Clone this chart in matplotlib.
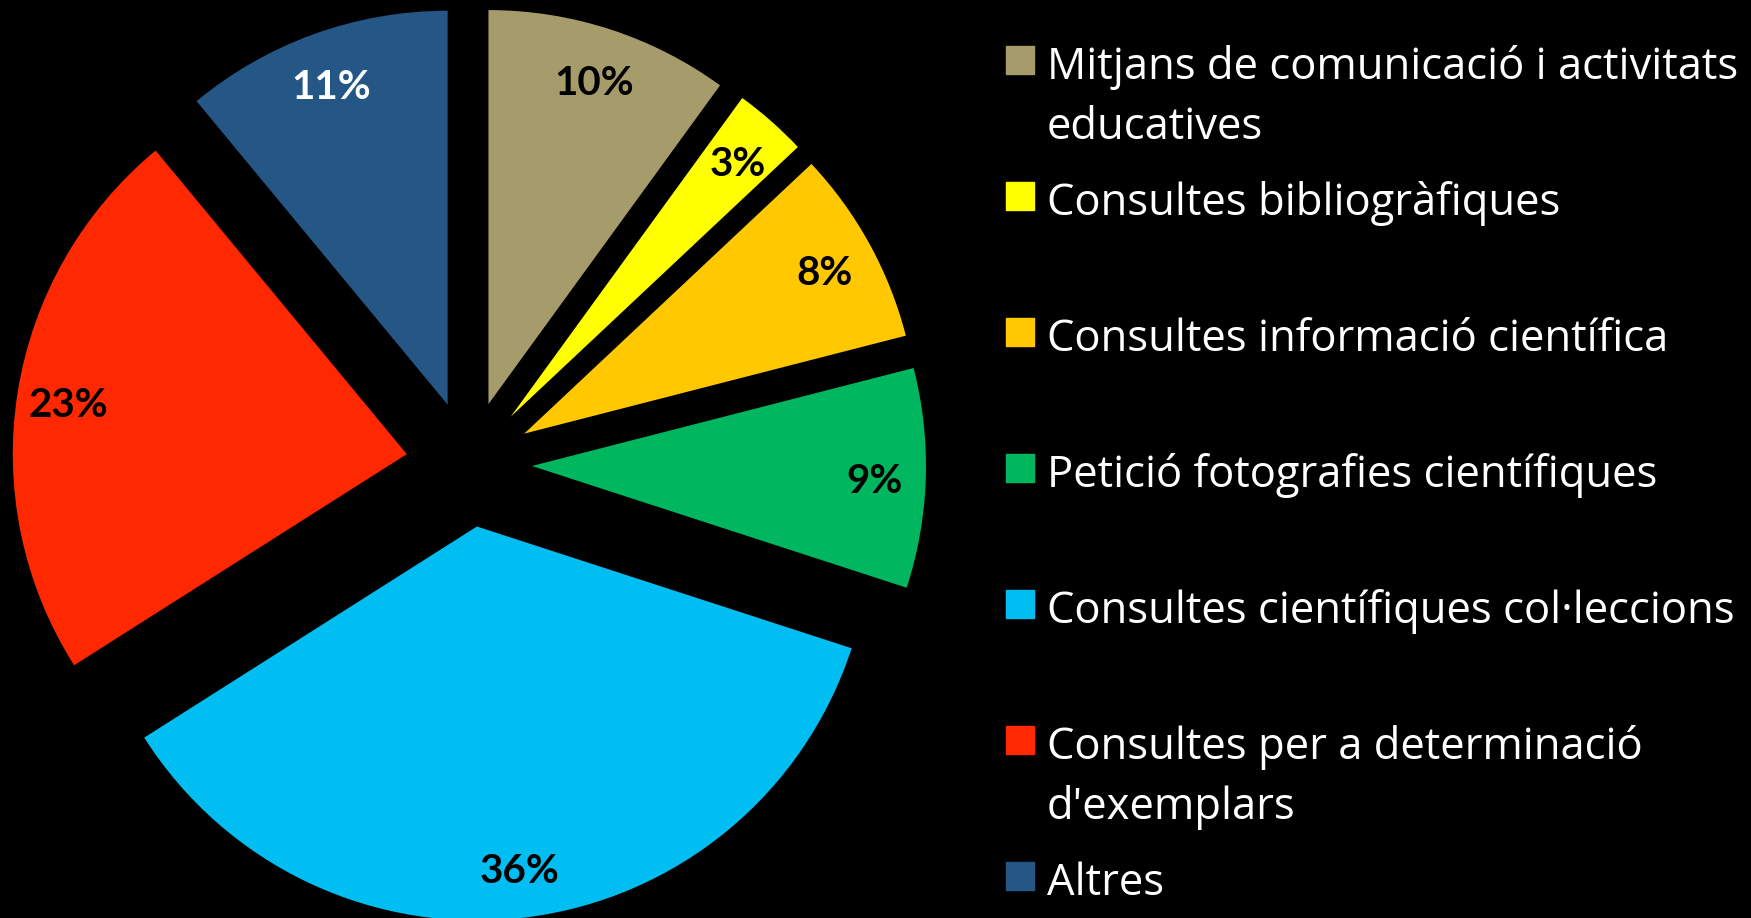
import matplotlib.pyplot as plt

labels = ['Mitjans de comunicació i activitats\neducatives',
          'Consultes bibliogràfiques',
          'Consultes informació científica',
          'Petició fotografies científiques',
          'Consultes científiques col·leccions',
          "Consultes per a determinació\nd'exemplars",
          'Altres']
values = [10, 3, 8, 9, 36, 23, 11]
colors = ['#A69B6A', '#FFFF00', '#FFC800', '#00B65E', '#00BEF2', '#FF2800', '#245686']
pct_colors = ['black', 'black', 'black', 'black', 'black', 'black', 'white']

W, H = 1751, 918
plt.rcParams['font.family'] = ['Lato', 'DejaVu Sans']

fig = plt.figure(figsize=(W / 100, H / 100), dpi=100, facecolor='black')
ax = fig.add_axes([0, 0, 1, 1])
ax.set_facecolor('black')

# pie drawn in pixel units (y up)
wedges, texts, autotexts = ax.pie(
    values, colors=colors, startangle=90, counterclock=False,
    center=(469, H - 464), radius=394, explode=[63] * len(values),
    autopct=lambda p: f'{p:.0f}%', pctdistance=0.87,
    wedgeprops=dict(linewidth=0),
    textprops=dict(fontsize=29, fontweight='bold'))
for t, c in zip(autotexts, pct_colors):
    t.set_color(c)
    x, y = t.get_position()
    t.set_position((x, y - 5))

ax.set_xlim(0, W)
ax.set_ylim(0, H)
ax.set_aspect('equal')
ax.axis('off')

# legend, evenly spaced entries, one text per line
for i, (lab, col) in enumerate(zip(labels, colors)):
    base = 79 + 136 * i
    ax.add_patch(plt.Rectangle((1006, H - (base - 5)), 28, 28, color=col))
    for j, line in enumerate(lab.split('\n')):
        ax.text(1047, H - (base + 60 * j), line, color='white', fontsize=31.4,
                family=['Open Sans', 'DejaVu Sans'], va='baseline', ha='left')

fig.savefig('out.png', dpi=100, facecolor='black')
